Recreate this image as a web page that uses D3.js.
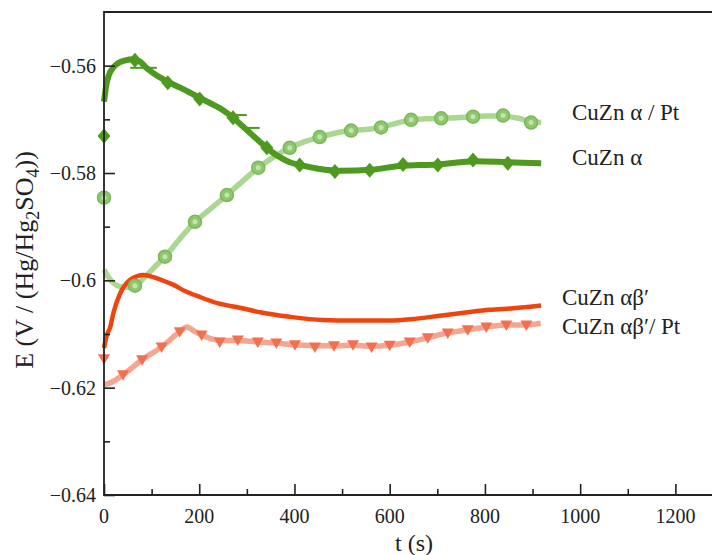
<!DOCTYPE html>
<html><head><meta charset="utf-8">
<script src="https://cdn.jsdelivr.net/npm/d3@7"></script>
<style>
html,body{margin:0;padding:0;background:#fff;}
svg{display:block;}
</style></head>
<body>
<svg id="chart" width="712" height="555" font-family="Liberation Serif"></svg>
<script>
// ---- data (t in s, E in V) ----
const xTicks = [0, 200, 400, 600, 800, 1000, 1200];
const yTicks = [-0.64, -0.62, -0.6, -0.58, -0.56];
const labels = ["CuZn α / Pt", "CuZn α", "CuZn αβ′", "CuZn αβ′/ Pt"];

const alphaLine = [[0,-0.5667],[5,-0.5635],[10,-0.5618],[20,-0.5603],[30,-0.5595],[45,-0.5590],[60,-0.5588],[75,-0.5592],[90,-0.5605],[110,-0.5618],[134,-0.5630],[160,-0.5641],[180,-0.5650],[201,-0.5660],[230,-0.5673],[250,-0.5683],[271,-0.5697],[290,-0.5712],[310,-0.5728],[330,-0.5744],[350,-0.5759],[370,-0.5771],[390,-0.5780],[411,-0.5785],[450,-0.5792],[500,-0.5796],[560,-0.5794],[620,-0.5787],[700,-0.5784],[780,-0.5778],[850,-0.5780],[918,-0.5782]];
const alphaMarks = [[0,-0.5731],[65,-0.5590],[134,-0.5632],[201,-0.5662],[271,-0.5697],[342,-0.5753],[411,-0.5785],[485,-0.5797],[558,-0.5795],[628,-0.5784],[701,-0.5785],[775,-0.5776],[848,-0.5782]];
const alphaBars = [[55,111,-0.5604],[264,300,-0.5692],[300,327,-0.5716]];

const alphaPtLine = [[0,-0.5980],[10,-0.5995],[20,-0.6005],[34,-0.6012],[50,-0.6013],[65,-0.6010],[90,-0.5990],[110,-0.5972],[128,-0.5956],[160,-0.5922],[191,-0.5891],[225,-0.5866],[258,-0.5841],[290,-0.5816],[324,-0.5790],[357,-0.5770],[390,-0.5753],[420,-0.5742],[453,-0.5733],[485,-0.5726],[516,-0.5721],[550,-0.5719],[582,-0.5715],[615,-0.5707],[645,-0.5701],[675,-0.5699],[708,-0.5698],[740,-0.5697],[775,-0.5695],[805,-0.5694],[838,-0.5694],[870,-0.5698],[897,-0.5704],[918,-0.5706]];
const alphaPtMarks = [[0,-0.5846],[65,-0.6010],[128,-0.5956],[191,-0.5891],[258,-0.5841],[324,-0.5790],[390,-0.5753],[453,-0.5733],[519,-0.5721],[582,-0.5715],[645,-0.5701],[708,-0.5698],[775,-0.5695],[838,-0.5693],[897,-0.5706]];

const abLine = [[0,-0.6126],[5,-0.6105],[13,-0.6087],[20,-0.6060],[34,-0.6024],[45,-0.6008],[55,-0.5999],[70,-0.5992],[82,-0.5990],[100,-0.5993],[120,-0.5999],[145,-0.6008],[170,-0.6020],[201,-0.6031],[240,-0.6043],[285,-0.6051],[330,-0.6060],[390,-0.6068],[460,-0.6074],[520,-0.6075],[600,-0.6075],[650,-0.6072],[705,-0.6066],[760,-0.6060],[810,-0.6055],[860,-0.6052],[918,-0.6047]];

const abPtLine = [[0,-0.6195],[20,-0.6188],[40,-0.6176],[80,-0.6148],[121,-0.6124],[159,-0.6096],[174,-0.6087],[190,-0.6095],[205,-0.6102],[243,-0.6112],[281,-0.6112],[323,-0.6115],[362,-0.6117],[401,-0.6120],[443,-0.6122],[483,-0.6122],[523,-0.6121],[562,-0.6123],[600,-0.6121],[642,-0.6115],[680,-0.6107],[722,-0.6098],[764,-0.6092],[803,-0.6087],[845,-0.6083],[887,-0.6083],[917,-0.6080]];
const abPtMarks = [[0,-0.6146],[40,-0.6176],[80,-0.6148],[121,-0.6124],[159,-0.6096],[205,-0.6102],[243,-0.6115],[281,-0.6111],[323,-0.6115],[362,-0.6117],[401,-0.6120],[443,-0.6124],[483,-0.6122],[523,-0.6120],[562,-0.6124],[600,-0.6121],[642,-0.6115],[680,-0.6107],[722,-0.6098],[764,-0.6092],[803,-0.6087],[845,-0.6083],[887,-0.6083]];

// ---- layout ----
const FONT = "Liberation Serif";
const svg = d3.select("#chart");
const m = {left:104, top:12, bottom:495};
const x = d3.scaleLinear().domain([0,1300]).range([m.left, 723]);
const y = d3.scaleLinear().domain([-0.64,-0.55]).range([m.bottom, m.top]);

const line = d3.line().x(d=>x(d[0])).y(d=>y(d[1])).curve(d3.curveMonotoneX);

svg.append("path").attr("d", line(alphaPtLine)).attr("fill","none")
  .attr("stroke","#acd793").attr("stroke-width",5.5).attr("stroke-linejoin","round");
svg.append("path").attr("d", line(abPtLine)).attr("fill","none")
  .attr("stroke","#f6a591").attr("stroke-width",5.5).attr("stroke-linejoin","round");
svg.append("path").attr("d", line(abLine)).attr("fill","none")
  .attr("stroke","#f0440f").attr("stroke-width",4.5).attr("stroke-linejoin","round");
svg.append("path").attr("d", line(alphaLine)).attr("fill","none")
  .attr("stroke","#4d9a1f").attr("stroke-width",6).attr("stroke-linejoin","round");
svg.append("g").selectAll("line").data(alphaBars).join("line")
  .attr("x1",d=>x(d[0])).attr("x2",d=>x(d[1])).attr("y1",d=>y(d[2])).attr("y2",d=>y(d[2]))
  .attr("stroke","#4d9a1f").attr("stroke-width",2);

const circ = svg.append("g");
circ.selectAll("circle.o").data(alphaPtMarks).join("circle")
  .attr("cx",d=>x(d[0])).attr("cy",d=>y(d[1])).attr("r",6.5)
  .attr("fill","#8fc76f").attr("stroke","#7ab75b").attr("stroke-width",1.5);
circ.selectAll("circle.i").data(alphaPtMarks).join("circle")
  .attr("cx",d=>x(d[0])).attr("cy",d=>y(d[1])).attr("r",2.5)
  .attr("fill","#c3e4ae");

svg.append("g").selectAll("path").data(abPtMarks).join("path")
  .attr("transform",d=>`translate(${x(d[0])},${y(d[1])})`)
  .attr("d","M-6,-4.5 L6,-4.5 L0,6 Z").attr("fill","#f26f50");

svg.append("g").selectAll("path").data(alphaMarks).join("path")
  .attr("transform",d=>`translate(${x(d[0])},${y(d[1])})`)
  .attr("d","M0,-7.5 L6.5,0 L0,7.5 L-6.5,0 Z").attr("fill","#4d9a1f");

// ---- axes (ticks drawn with d3 axis; labels drawn as separate text) ----
const fmt = d => d3.format("")(d).replace("-", "\u2212");
const xMinor = d3.range(100, 1300, 200);
const yMinor = [-0.63,-0.61,-0.59,-0.57];

const gx = svg.append("g").attr("transform",`translate(0,${m.bottom})`)
  .call(d3.axisBottom(x).tickValues(xTicks).tickSize(-11).tickFormat(""));
const gxm = svg.append("g").attr("transform",`translate(0,${m.bottom})`)
  .call(d3.axisBottom(x).tickValues(xMinor).tickSize(-6).tickFormat(""));
const gy = svg.append("g").attr("transform",`translate(${m.left},0)`)
  .call(d3.axisLeft(y).tickValues(yTicks).tickSize(-11).tickFormat(""));
const gym = svg.append("g").attr("transform",`translate(${m.left},0)`)
  .call(d3.axisLeft(y).tickValues(yMinor).tickSize(-6).tickFormat(""));
[gx,gxm,gy,gym].forEach(g=>{
  g.selectAll(".domain").remove();
  g.selectAll("text").remove();
  g.selectAll("line").attr("stroke","#222").attr("stroke-width",1.6);
});

const labG = svg.append("g");
labG.selectAll("text.xl").data(xTicks).join("text").attr("class","xl")
  .attr("x",d=>x(d)).attr("y",m.bottom+28).attr("text-anchor","middle")
  .attr("font-family",FONT).style("font-family","'Liberation Serif', serif")
  .attr("font-size",20).attr("fill","#222").text(d=>d);
labG.selectAll("text.yl").data(yTicks).join("text").attr("class","yl")
  .attr("x",m.left-8).attr("y",d=>y(d)+7).attr("text-anchor","end")
  .attr("font-family",FONT).style("font-family","'Liberation Serif', serif")
  .attr("font-size",20).attr("fill","#222").text(fmt);

// frame
svg.append("path").attr("d",`M${x(1300)},${m.top} H${m.left} V${m.bottom} H${x(1300)}`)
  .attr("fill","none").attr("stroke","#222").attr("stroke-width",1.8);

// axis titles
svg.append("text").attr("x",414).attr("y",551).attr("text-anchor","middle")
  .attr("font-family",FONT).style("font-family","'Liberation Serif', serif")
  .attr("font-size",24).attr("fill","#222").text("t (s)");
const yt = svg.append("text").attr("transform","translate(33,260) rotate(-90)")
  .attr("text-anchor","middle").attr("font-family",FONT).style("font-family","'Liberation Serif', serif")
  .attr("font-size",26).attr("fill","#222");
yt.append("tspan").text("E (V / (Hg/Hg");
yt.append("tspan").attr("dy",6).attr("font-size",18).text("2");
yt.append("tspan").attr("dy",-6).text("SO");
yt.append("tspan").attr("dy",6).attr("font-size",18).text("4");
yt.append("tspan").attr("dy",-6).text("))");

// series labels
const lpos = [[572,119.5],[572,164.5],[562,304.5],[562,333.5]];
svg.append("g").selectAll("text").data(labels).join("text")
  .attr("x",(d,i)=>lpos[i][0]).attr("y",(d,i)=>lpos[i][1])
  .attr("font-family",FONT).style("font-family","'Liberation Serif', serif")
  .attr("font-size",23).attr("fill","#222").text(d=>d);
</script>
</body></html>
